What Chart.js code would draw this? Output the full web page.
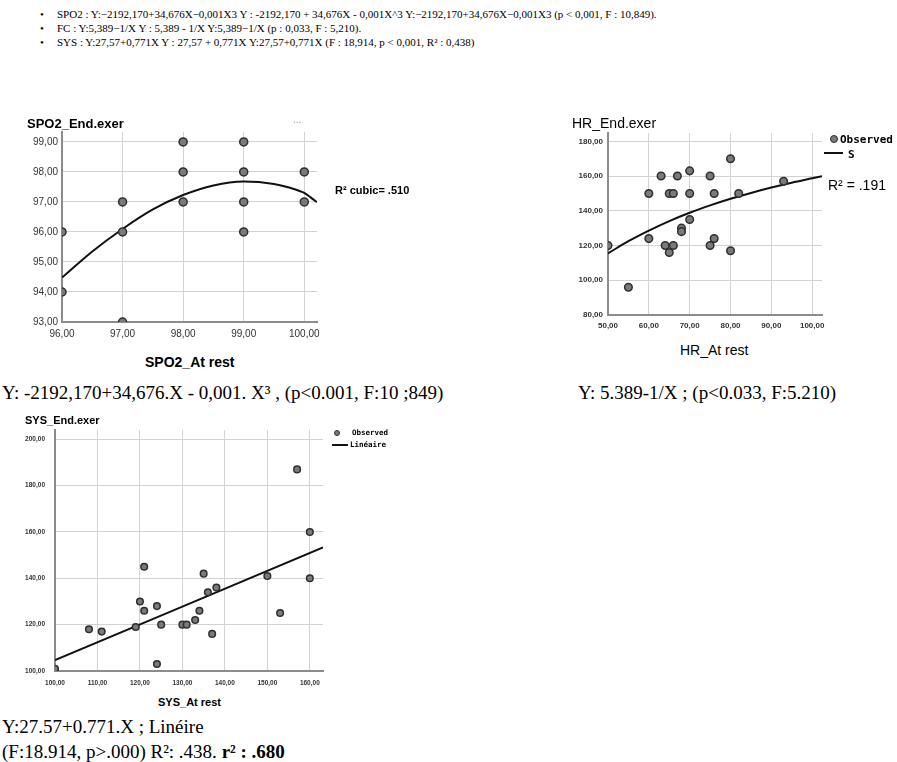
<!DOCTYPE html>
<html>
<head>
<meta charset="utf-8">
<script src="https://cdn.jsdelivr.net/npm/chart.js@4.4.0/dist/chart.umd.min.js"></script>
<style>
body { margin: 0; background: #fff; }
#page { position: relative; width: 897px; height: 762px; overflow: hidden; font-family: "Liberation Serif", "Times New Roman", serif; color: #000; }
.t { position: absolute; white-space: nowrap; line-height: 1; }
.sans { font-family: "Liberation Sans", Arial, sans-serif; }
.mono { font-family: "DejaVu Sans Mono", monospace; font-weight: bold; }
.dot { position: absolute; border-radius: 50%; background: #7a7a7a; border: 1px solid #2e2e2e; box-sizing: border-box; }
.bar { position: absolute; background: #111; }
canvas { position: absolute; }
</style>
</head>
<body>
<div id="page">
  <div class="t" style="left:40px;top:9px;font-size:11px">•</div>
  <div class="t" style="left:40px;top:23px;font-size:11px">•</div>
  <div class="t" style="left:40px;top:37px;font-size:11px">•</div>
  <div class="t" style="left:57px;top:9px;font-size:11px">SPO2 : Y:−2192,170+34,676X−0,001X3 Y : -2192,170 + 34,676X - 0,001X^3 Y:−2192,170+34,676X−0,001X3 (p &lt; 0,001, F : 10,849).</div>
  <div class="t" style="left:57px;top:23px;font-size:11px">FC : Y:5,389−1/X Y : 5,389 - 1/X Y:5,389−1/X (p : 0,033, F : 5,210).</div>
  <div class="t" style="left:57px;top:37px;font-size:11px">SYS : Y:27,57+0,771X Y : 27,57 + 0,771X Y:27,57+0,771X (F : 18,914, p &lt; 0,001, R² : 0,438)</div>

  <canvas id="spo2" width="330" height="235" style="left:0px;top:112px"></canvas>
  <div class="t sans" style="left:27px;top:117px;font-size:13px;font-weight:bold">SPO2_End.exer</div>
  <div class="t sans" style="left:293px;top:115px;font-size:10px;color:#999">...</div>
  <div class="t sans" style="left:335px;top:185px;font-size:11px;font-weight:bold">R² cubic= .510</div>
  <div class="t sans" style="left:145px;top:355px;font-size:14px;font-weight:bold">SPO2_At rest</div>

  <canvas id="hr" width="280" height="225" style="left:560px;top:112px"></canvas>
  <div class="t sans" style="left:572px;top:116px;font-size:14px">HR_End.exer</div>
  <div class="dot" style="left:830px;top:135px;width:8px;height:8px"></div>
  <div class="t mono" style="left:840px;top:134px;font-size:11px">Observed</div>
  <div class="bar" style="left:824px;top:152px;width:19px;height:2px"></div>
  <div class="t mono" style="left:848px;top:149px;font-size:11px">S</div>
  <div class="t sans" style="left:828px;top:178px;font-size:14px">R² = .191</div>
  <div class="t sans" style="left:680px;top:343px;font-size:14px">HR_At rest</div>

  <div class="t" style="left:2px;top:383px;font-size:19px">Y: -2192,170+34,676.X - 0,001. X³ , (p&lt;0.001, F:10 ;849)</div>
  <div class="t" style="left:578px;top:383px;font-size:19px">Y: 5.389-1/X ; (p&lt;0.033, F:5.210)</div>

  <canvas id="sys" width="335" height="285" style="left:0px;top:410px"></canvas>
  <div class="t sans" style="left:25px;top:415px;font-size:11px;font-weight:bold">SYS_End.exer</div>
  <div class="dot" style="left:334px;top:430px;width:6px;height:6px"></div>
  <div class="t mono" style="left:352px;top:429px;font-size:7.5px">Observed</div>
  <div class="bar" style="left:332px;top:444px;width:16px;height:2px"></div>
  <div class="t mono" style="left:350px;top:441px;font-size:7.5px">Linéaire</div>
  <div class="t sans" style="left:158px;top:697px;font-size:11px;font-weight:bold">SYS_At rest</div>

  <div class="t" style="left:2px;top:717px;font-size:19px">Y:27.57+0.771.X ; Linéire</div>
  <div class="t" style="left:2px;top:742px;font-size:19px">(F:18.914, p&gt;.000) R²: .438. <b>r² : .680</b></div>
</div>

<script>
// SPO2 (cubic fit)
const spo2Rest = [96, 96, 97, 97, 97, 98, 98, 98, 99, 99, 99, 99, 100, 100];
const spo2End  = [96, 94, 93, 97, 96, 99, 98, 97, 99, 98, 97, 96, 98, 97];
const spo2FitX = [96, 96.5, 97, 97.5, 98, 98.5, 99, 99.5, 99.75, 100, 100.1, 100.21];
const spo2FitY = [94.48, 95.35, 96.1, 96.75, 97.23, 97.55, 97.68, 97.6, 97.48, 97.3, 97.16, 96.99];
const spo2XTicks = [96, 97, 98, 99, 100];
const spo2YTicks = [93, 94, 95, 96, 97, 98, 99];

// HR (S curve)
const hrRest = [50, 55, 60, 60, 63, 64, 65, 65, 66, 66, 67, 68, 68, 70, 70, 70, 75, 75, 76, 76, 80, 80, 82, 93];
const hrEnd  = [120, 96, 150, 124, 160, 120, 116, 150, 150, 120, 160, 130, 128, 163, 150, 135, 160, 120, 150, 124, 170, 117, 150, 157];
const hrFitX = [50, 55, 60, 65, 70, 75, 80, 85, 90, 95, 100, 102.4];
const hrFitY = [115.5, 122.5, 128.6, 134.1, 138.9, 143.1, 146.9, 150.3, 153.4, 156.2, 158.7, 159.9];
const hrXTicks = [50, 60, 70, 80, 90, 100];
const hrYTicks = [80, 100, 120, 140, 160, 180];

// SYS (linear fit)
const sysRest = [100, 108, 111, 119, 120, 121, 121, 124, 124, 125, 130, 131, 133, 134, 135, 136, 137, 138, 150, 153, 157, 160, 160];
const sysEnd  = [101, 118, 117, 119, 130, 145, 126, 128, 103, 120, 120, 120, 122, 126, 142, 134, 116, 136, 141, 125, 187, 160, 140];
const sysFitX = [100, 163.1];
const sysFitY = [104.7, 153.3];
const sysXTicks = [100, 110, 120, 130, 140, 150, 160];
const sysYTicks = [100, 120, 140, 160, 180, 200];

function zip(xs, ys) {
  return xs.map((x, i) => ({ x: x, y: ys[i] }));
}

function fmt(v) {
  return v.toFixed(2).replace('.', ',');
}

function axis(min, max, ticks, size, font, pad, horiz) {
  return {
    type: 'linear',
    min: min,
    max: max,
    afterBuildTicks: a => { a.ticks = ticks.map(v => ({ value: v })); },
    afterFit: a => { if (horiz) a.height = size; else a.width = size; },
    grid: { color: '#d2d2d2', lineWidth: 1, drawTicks: false },
    border: { display: true, color: '#8c8c8c', width: 2 },
    ticks: { font: font, color: '#333', padding: pad, autoSkip: false, maxRotation: 0, callback: fmt }
  };
}

function plot(id, c) {
  new Chart(document.getElementById(id), {
    type: 'scatter',
    data: {
      datasets: [
        {
          data: zip(c.px, c.py),
          pointRadius: c.r,
          pointBackgroundColor: '#7a7a7a',
          pointBorderColor: '#2e2e2e',
          pointBorderWidth: 1.5,
          clip: 0
        },
        {
          data: zip(c.fx, c.fy),
          showLine: true,
          borderColor: '#111',
          borderWidth: 2,
          pointRadius: 0,
          cubicInterpolationMode: 'monotone',
          clip: 0
        }
      ]
    },
    options: {
      responsive: false,
      animation: false,
      events: [],
      layout: { padding: c.pad },
      plugins: { legend: { display: false }, tooltip: { enabled: false } },
      scales: {
        x: axis(c.xr[0], c.xr[1], c.xt, c.xh, c.font, c.xpad, true),
        y: axis(c.yr[0], c.yr[1], c.yt, c.yw, c.font, c.ypad, false)
      }
    }
  });
}

plot('spo2', {
  px: spo2Rest, py: spo2End, fx: spo2FitX, fy: spo2FitY,
  xr: [96, 100.21], yr: [93, 99.33], xt: spo2XTicks, yt: spo2YTicks,
  r: 4, pad: { left: 0, top: 20, right: 13, bottom: 0 }, xh: 25, yw: 62,
  font: { family: 'Liberation Sans', size: 10 }, xpad: 6, ypad: 4
});

plot('hr', {
  px: hrRest, py: hrEnd, fx: hrFitX, fy: hrFitY,
  xr: [50, 102.4], yr: [80, 184.8], xt: hrXTicks, yt: hrYTicks,
  r: 3.8, pad: { left: 0, top: 21, right: 18, bottom: 0 }, xh: 22, yw: 48,
  font: { family: 'Liberation Sans', size: 8, weight: 'bold' }, xpad: 6, ypad: 5
});

plot('sys', {
  px: sysRest, py: sysEnd, fx: sysFitX, fy: sysFitY,
  xr: [100, 163.1], yr: [100, 204], xt: sysXTicks, yt: sysYTicks,
  r: 3.3, pad: { left: 0, top: 20, right: 12, bottom: 0 }, xh: 24, yw: 55,
  font: { family: 'Liberation Sans', size: 6.5, weight: 'bold' }, xpad: 8, ypad: 10
});
</script>
</body>
</html>
